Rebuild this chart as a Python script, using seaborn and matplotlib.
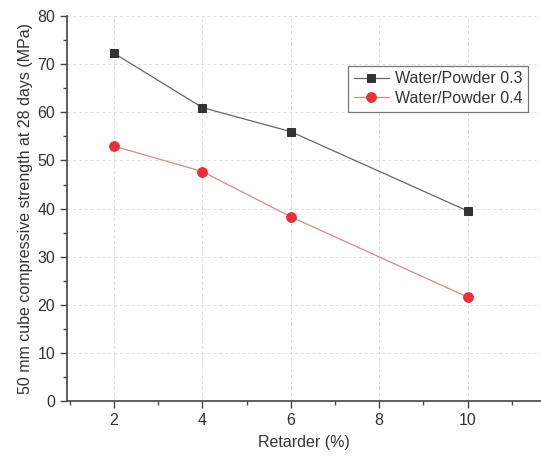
import matplotlib
matplotlib.use("Agg")
import matplotlib.pyplot as plt
import seaborn as sns
import pandas as pd
from matplotlib.ticker import MultipleLocator

# Data
retarder = [2, 4, 6, 10]
wp_03 = [72.3, 61.0, 56.0, 39.5]
wp_04 = [53.0, 47.7, 38.3, 21.6]

df = pd.DataFrame({
    "Retarder": retarder * 2,
    "Strength": wp_03 + wp_04,
    "Series": ["Water/Powder 0.3"] * 4 + ["Water/Powder 0.4"] * 4,
})

sns.set_style("white")
plt.rcParams["font.family"] = ["Liberation Sans", "DejaVu Sans"]

fig = plt.figure(figsize=(5.41, 4.63), dpi=100)
ax = fig.add_axes([0.124, 0.134, 0.876, 0.831])

sns.lineplot(data=df[df["Series"] == "Water/Powder 0.3"], x="Retarder", y="Strength",
             color="#666666", marker="s", markersize=6, markerfacecolor="#333333",
             markeredgecolor="#333333", linewidth=0.9, label="Water/Powder 0.3", ax=ax)
sns.lineplot(data=df[df["Series"] == "Water/Powder 0.4"], x="Retarder", y="Strength",
             color="#d48a8a", marker="o", markersize=7, markerfacecolor="#e5323a",
             markeredgecolor="#e5323a", linewidth=0.9, label="Water/Powder 0.4", ax=ax)

ax.set_xlim(0.94, 11.66)
ax.set_ylim(0, 80)
ax.xaxis.set_major_locator(MultipleLocator(2))
ax.xaxis.set_minor_locator(MultipleLocator(1))
ax.yaxis.set_major_locator(MultipleLocator(10))
ax.yaxis.set_minor_locator(MultipleLocator(5))
ax.grid(True, which="major", linestyle=(0, (3, 3)), color="#dddddd", linewidth=0.7)

for s in ["top", "right"]:
    ax.spines[s].set_visible(False)
for s in ["left", "bottom"]:
    ax.spines[s].set_color("#444444")
    ax.spines[s].set_linewidth(1.2)

ax.tick_params(which="major", direction="out", length=5, width=1, color="#444444",
               labelsize=11.5, labelcolor="#333333", bottom=True, left=True)
ax.tick_params(which="minor", direction="out", length=3, width=1, color="#444444",
               bottom=True, left=True)

ax.set_xlabel("Retarder (%)", fontsize=11.5, color="#333333", labelpad=5)
ax.set_ylabel("50 mm cube compressive strength at 28 days (MPa)", fontsize=11.5,
              color="#333333", labelpad=3)

leg = ax.legend(loc="upper right", bbox_to_anchor=(0.98, 0.88), fontsize=11.5,
                frameon=True, fancybox=False, edgecolor="#555555",
                borderpad=0.35, labelspacing=0.3, handlelength=2.2, handletextpad=0.4,
                borderaxespad=0.2)
leg.get_frame().set_linewidth(0.9)
for t in leg.get_texts():
    t.set_color("#333333")

fig.savefig("out.png", dpi=100)
